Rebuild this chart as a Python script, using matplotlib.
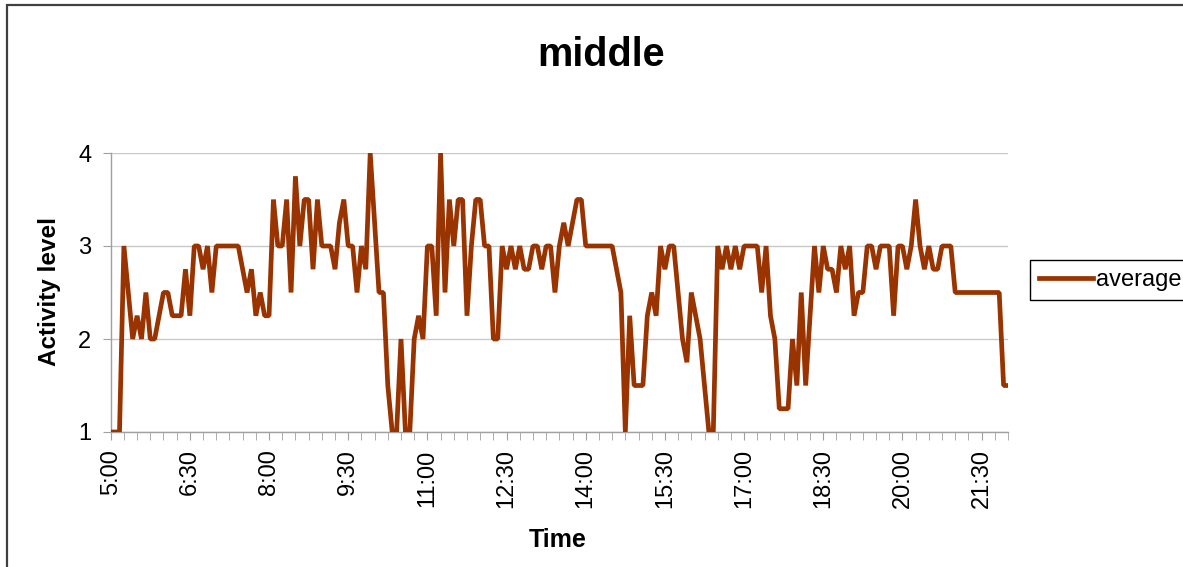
import matplotlib
matplotlib.use("Agg")
import matplotlib.pyplot as plt
from matplotlib.patches import Rectangle
import numpy as np

plt.rcParams['font.family'] = ['Liberation Sans', 'DejaVu Sans']

# average activity level, one value every 5 minutes from 5:00 to 22:00
activity = [
    1, 1, 1, 3, 2.5, 2, 2.25, 2, 2.5, 2, 2, 2.25,
    2.5, 2.5, 2.25, 2.25, 2.25, 2.75, 2.25, 3, 3, 2.75, 3, 2.5,
    3, 3, 3, 3, 3, 3, 2.75, 2.5, 2.75, 2.25, 2.5, 2.25,
    2.25, 3.5, 3, 3, 3.5, 2.5, 3.75, 3, 3.5, 3.5, 2.75, 3.5,
    3, 3, 3, 2.75, 3.25, 3.5, 3, 3, 2.5, 3, 2.75, 4,
    3.25, 2.5, 2.5, 1.5, 1, 1, 2, 1, 1, 2, 2.25, 2,
    3, 3, 2.25, 4, 2.5, 3.5, 3, 3.5, 3.5, 2.25, 3, 3.5,
    3.5, 3, 3, 2, 2, 3, 2.75, 3, 2.75, 3, 2.75, 2.75,
    3, 3, 2.75, 3, 3, 2.5, 3, 3.25, 3, 3.25, 3.5, 3.5,
    3, 3, 3, 3, 3, 3, 3, 2.75, 2.5, 1, 2.25, 1.5,
    1.5, 1.5, 2.25, 2.5, 2.25, 3, 2.75, 3, 3, 2.5, 2, 1.75,
    2.5, 2.25, 2, 1.5, 1, 1, 3, 2.75, 3, 2.75, 3, 2.75,
    3, 3, 3, 3, 2.5, 3, 2.25, 2, 1.25, 1.25, 1.25, 2,
    1.5, 2.5, 1.5, 2.25, 3, 2.5, 3, 2.75, 2.75, 2.5, 3, 2.75,
    3, 2.25, 2.5, 2.5, 3, 3, 2.75, 3, 3, 3, 2.25, 3,
    3, 2.75, 3, 3.5, 3, 2.75, 3, 2.75, 2.75, 3, 3, 3,
    2.5, 2.5, 2.5, 2.5, 2.5, 2.5, 2.5, 2.5, 2.5, 2.5, 2.5, 1.5,
    1.5,
]
tick_labels = ["5:00", "6:30", "8:00", "9:30", "11:00", "12:30",
               "14:00", "15:30", "17:00", "18:30", "20:00", "21:30"]
y_ticks = [1, 2, 3, 4]
label_step = 18   # one label every 1.5 h
minor_step = 3    # one tick mark every 15 min

W, H = 1183, 567
fig = plt.figure(figsize=(W / 100, H / 100), dpi=100)
ax = fig.add_axes([110.7 / W, 1 - 432 / H, (1008 - 110.7) / W, (432 - 153) / H])

x = np.arange(len(activity))
ax.plot(x, activity, color='#993300', lw=3.4, solid_joinstyle='bevel',
        label='average', zorder=3)

ax.set_xlim(0, len(activity) - 1)
ax.set_ylim(1, 4)
ax.set_yticks(y_ticks)
ax.set_xticks(np.arange(0, len(activity), minor_step), minor=True)
ax.set_xticks(np.arange(0, label_step * len(tick_labels), label_step))
ax.set_xticklabels(tick_labels, rotation=90)

ax.yaxis.grid(True, color='#c8c8c8', lw=1)
ax.set_axisbelow(True)
for s in ['top', 'right']:
    ax.spines[s].set_visible(False)
for s in ['left', 'bottom']:
    ax.spines[s].set_color('#a0a0a0')
    ax.spines[s].set_linewidth(1)
ax.tick_params(axis='x', which='both', length=5.5, color='#a0a0a0',
               labelsize=17, pad=7)
ax.tick_params(axis='y', length=6, color='#a0a0a0', labelsize=17, pad=8)

fig.text(601 / W, 1 - 55 / H, 'middle', ha='center', va='center',
         fontsize=28.5, fontweight='bold')
fig.text(50 / W, 1 - 292 / H, 'Activity level', rotation=90, ha='center',
         va='center', fontsize=17.5, fontweight='bold')
fig.text(558 / W, 1 - 540 / H, 'Time', ha='center', va='center',
         fontsize=18, fontweight='bold')

leg = fig.legend(loc='center left', bbox_to_anchor=(1030 / W, 1 - 280 / H),
                 fontsize=17, frameon=True, fancybox=False, edgecolor='black',
                 framealpha=1, borderpad=0.4, handlelength=2.25,
                 handletextpad=0.15, borderaxespad=0)
leg.get_frame().set_linewidth(1.0)

# outer chart border (right and bottom edges run off the image)
fig.patches.append(Rectangle((7 / W, -0.1), 1.2, 1.1 - 5 / H,
                             transform=fig.transFigure, fill=False,
                             edgecolor='#404040', lw=1.6))

fig.savefig('out.png', dpi=100)
